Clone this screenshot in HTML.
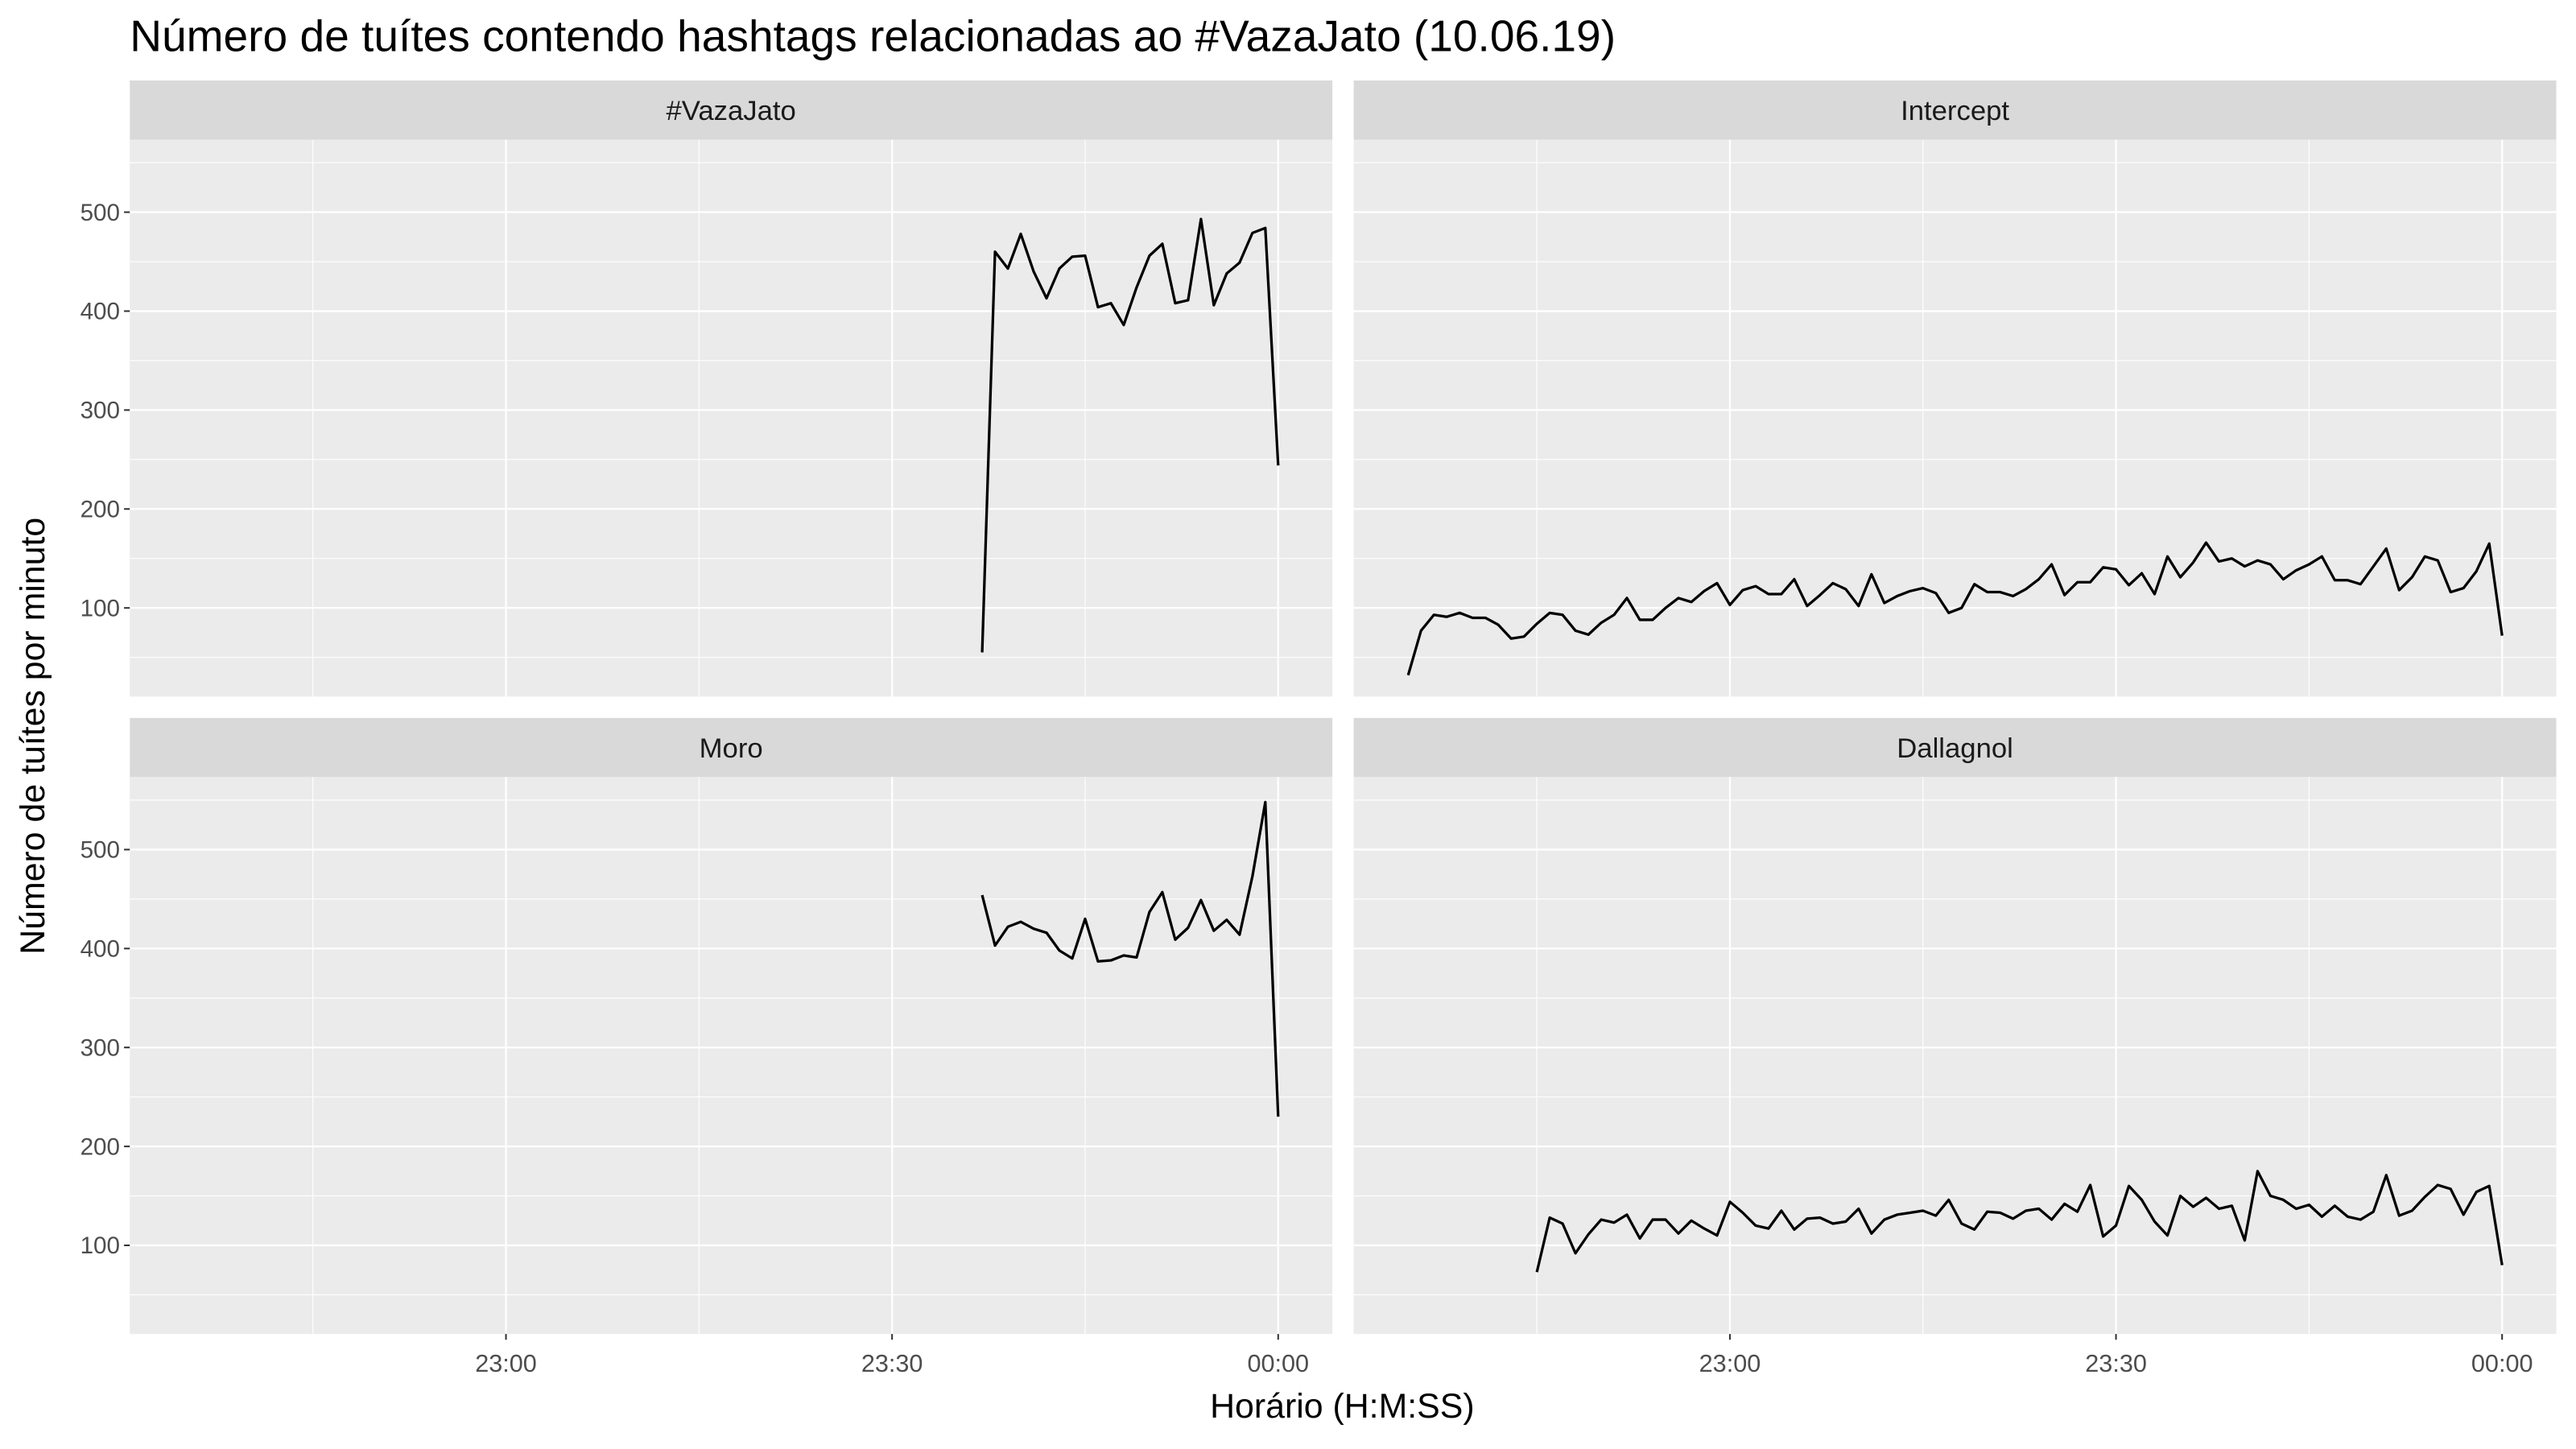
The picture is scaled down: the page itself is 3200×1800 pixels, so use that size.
<!DOCTYPE html>
<html><head><meta charset="utf-8"><style>
html,body{margin:0;padding:0;background:#fff;}
svg{display:block;font-family:"Liberation Sans",sans-serif;}
</style></head><body>
<svg id="chart" width="3200" height="1800" viewBox="0 0 1568 882" xmlns="http://www.w3.org/2000/svg">
<text x="79" y="31" font-size="27" fill="#000">Número de tuítes contendo hashtags relacionadas ao #VazaJato (10.06.19)</text>
<text x="817" y="863" font-size="21" text-anchor="middle" fill="#000">Horário (H:M:SS)</text>
<text transform="translate(27,448) rotate(-90)" font-size="21" text-anchor="middle" fill="#000">Número de tuítes por minuto</text>
<g id="panels"></g>
</svg>
<script>
// minutes relative to 00:00
const facetNames = ["#VazaJato","Intercept","Moro","Dallagnol"];
const facetStart = [-23,-85,-23,-75];
const vazaValues = [55,460,443,478,440,413,443,455,456,404,408,386,424,456,468,408,411,493,406,438,449,479,484,244];
const interceptValues = [32,77,93,91,95,90,90,83,69,71,84,95,93,77,73,85,93,110,88,88,100,110,106,117,125,103,118,122,114,114,129,102,113,125,119,102,134,105,112,117,120,115,95,100,124,116,116,112,119,129,144,113,126,126,141,139,123,135,114,152,131,146,166,147,150,142,148,144,129,138,144,152,128,128,124,142,160,118,131,152,148,116,120,137,165,72];
const moroValues = [454,403,422,427,420,416,398,390,430,387,388,393,391,437,457,409,421,449,418,429,414,473,548,230];
const dallagnolValues = [73,128,122,92,111,126,123,131,107,126,126,112,125,117,110,144,133,120,117,135,116,127,128,122,124,137,112,126,131,133,135,130,146,122,116,134,133,127,135,137,126,142,134,161,109,120,160,146,124,110,150,139,148,137,140,105,175,150,146,137,141,129,140,129,126,134,171,130,135,149,161,157,131,154,160,80];
const seriesValues = [vazaValues, interceptValues, moroValues, dallagnolValues];
const yTicks = [100,200,300,400,500];
const xTickMinutes = [-60,-30,0];
const xTickLabels = ["23:00","23:30","00:00"];

const NS="http://www.w3.org/2000/svg";
const root=document.getElementById('panels');
const panelX=[79,824], panelW=732;
const panelY=[85,473], panelH=339;
const minMin=-89.23, maxMin=4.21;
const yMin=10.4, yMax=573.3;
function mk(tag,attrs,parent){const e=document.createElementNS(NS,tag);for(const k in attrs)e.setAttribute(k,attrs[k]);parent.appendChild(e);return e;}
facetNames.forEach((name,i)=>{
  const col=i%2,row=Math.floor(i/2);
  const x0=panelX[col],y0=panelY[row];
  const sx=m=>x0+(m-minMin)/(maxMin-minMin)*panelW;
  const sy=v=>y0+panelH-(v-yMin)/(yMax-yMin)*panelH;
  const g=mk('g',{},root);
  
  
  const strip=mk('rect',{x:x0,y:y0-36,width:panelW,height:36,fill:'#d9d9d9'},g);
  
  
  const st=mk('text',{x:x0+panelW/2,y:y0-12,'font-size':17,'text-anchor':'middle',fill:'#1a1a1a'},g);
  st.textContent=name;
  
  
  const bg=mk('rect',{x:x0,y:y0,width:panelW,height:panelH,fill:'#ebebeb'},g);
  
  
  for(let v=50;v<=550;v+=100){const y=sy(v);const l=mk('line',{x1:x0,x2:x0+panelW,y1:y,y2:y,stroke:'#fff','stroke-width':0.55},g);}
  [-75,-45,-15].forEach(m=>{const x=sx(m);const l=mk('line',{x1:x,x2:x,y1:y0,y2:y0+panelH,stroke:'#fff','stroke-width':0.55},g);});
  yTicks.forEach(v=>{const y=sy(v);const l=mk('line',{x1:x0,x2:x0+panelW,y1:y,y2:y,stroke:'#fff','stroke-width':1.1},g);});
  xTickMinutes.forEach(m=>{const x=sx(m);const l=mk('line',{x1:x,x2:x,y1:y0,y2:y0+panelH,stroke:'#fff','stroke-width':1.1},g);});
  if(col===0){
    yTicks.forEach(v=>{const y=sy(v);
      const t=mk('line',{x1:x0-3.5,x2:x0,y1:y,y2:y,stroke:'#333','stroke-width':1},g);
      const lb=mk('text',{x:x0-6,y:y+5,'font-size':14.5,'text-anchor':'end',fill:'#4d4d4d'},g);lb.textContent=v;});
  }
  if(row===1){
    xTickMinutes.forEach((m,k)=>{const x=sx(m);
      const t=mk('line',{x1:x,x2:x,y1:y0+panelH,y2:y0+panelH+3.5,stroke:'#333','stroke-width':1},g);
      const lb=mk('text',{x:x,y:y0+panelH+23,'font-size':15,'text-anchor':'middle',fill:'#4d4d4d'},g);lb.textContent=xTickLabels[k];});
  }
  const vals=seriesValues[i];
  const pts=vals.map((v,k)=>sx(facetStart[i]+k).toFixed(2)+','+sy(v).toFixed(2)).join(' ');
  const pl=mk('polyline',{points:pts,fill:'none',stroke:'#000','stroke-width':1.6,'stroke-linejoin':'round'},g);
  
  
});
</script>
</body></html>
